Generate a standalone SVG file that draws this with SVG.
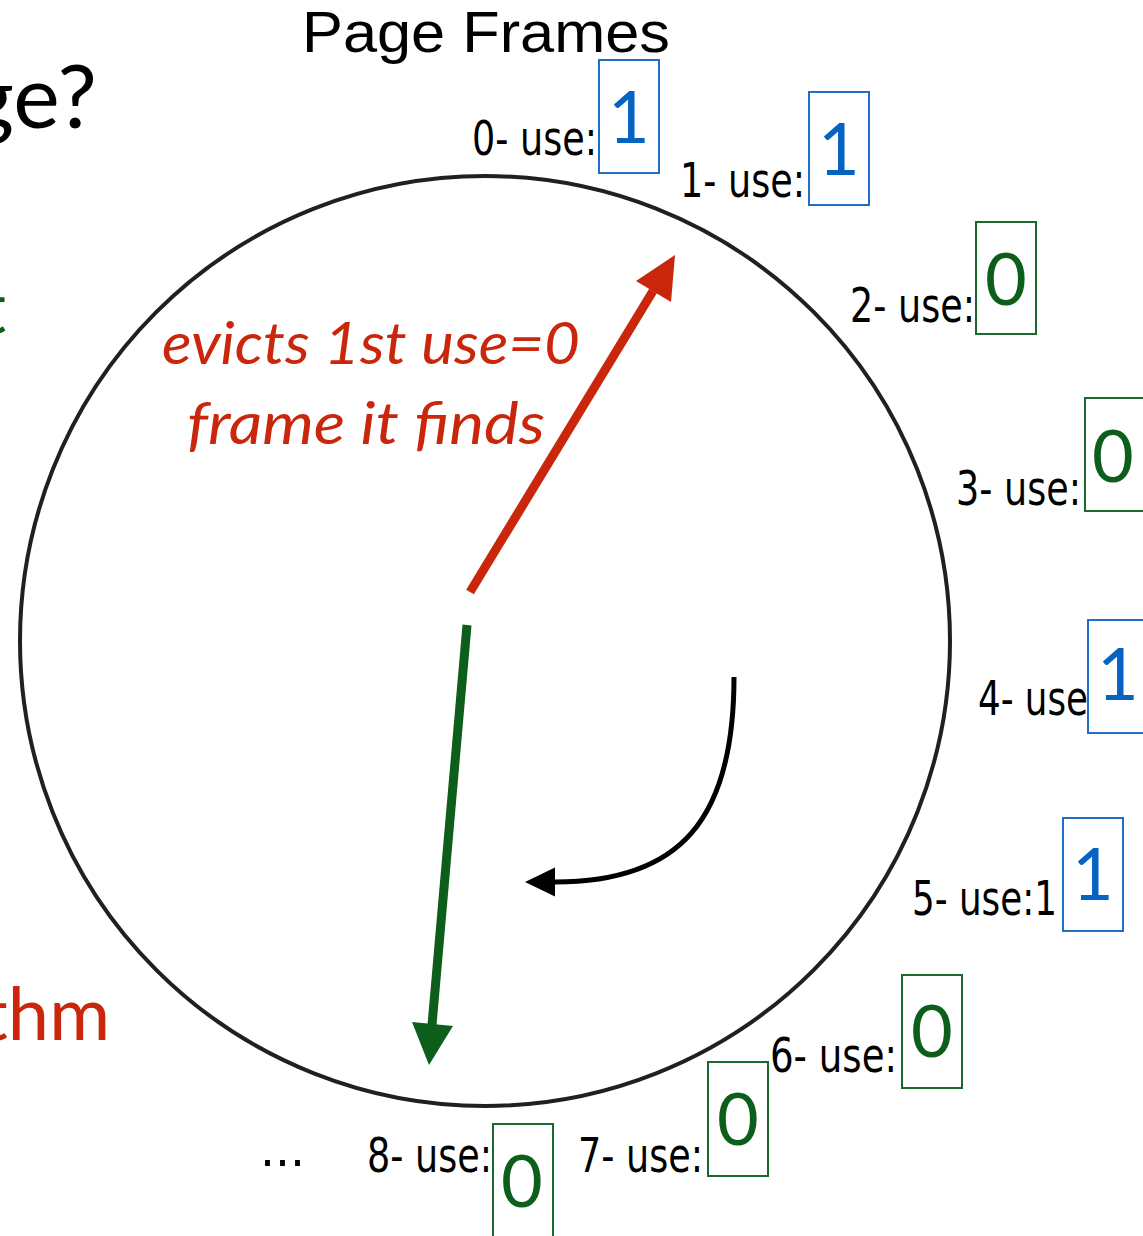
<svg xmlns="http://www.w3.org/2000/svg" width="1143" height="1236" viewBox="0 0 1143 1236">
<style>
.lbl{font-family:"Liberation Sans Narrow","DejaVu Sans Condensed","Liberation Sans",sans-serif;font-size:48px;fill:#000}
.box1{fill:none;stroke:#1f6fc8;stroke-width:2}
.box0{fill:none;stroke:#1a6b2a;stroke-width:2}
.d1{font-family:Lato,"Liberation Sans",sans-serif;font-size:72px;fill:#0563c1;text-anchor:middle}
.d0{font-family:Lato,"Liberation Sans",sans-serif;font-size:72px;fill:#0d5e1a;text-anchor:middle}
.big{font-family:Lato,"Open Sans",sans-serif}
</style>
<defs>
<marker id="ah" markerUnits="userSpaceOnUse" markerWidth="30" markerHeight="30" refX="0" refY="13" orient="auto" viewBox="0 0 27 26"><path d="M0,0 L27,13 L0,26 Z" fill="#000"/></marker>
</defs>
<rect width="1143" height="1236" fill="#fff"/>
<g id="cropped-left">
<text class="big" x="97" y="128" font-size="88" text-anchor="end" fill="#000">ge?</text>
<text class="big" x="6" y="333" font-size="72" text-anchor="end" fill="#0d5e1a">t</text>
<text class="big" x="110" y="1040" font-size="74" text-anchor="end" fill="#c9260c">thm</text>
</g>
<g id="title"><text x="486" y="52" font-family="'Liberation Sans',Arial,sans-serif" font-size="57" text-anchor="middle" textLength="368" lengthAdjust="spacingAndGlyphs">Page Frames</text></g>
<g id="clock"><ellipse cx="485" cy="641" rx="465" ry="465" fill="none" stroke="#231f20" stroke-width="4"/></g>
<g id="connectors">
<line x1="470" y1="592" x2="653" y2="291" stroke="#c9260c" stroke-width="9"/>
<polygon points="675,255 636,281 671,302" fill="#c9260c"/>
<line x1="467" y1="625" x2="432" y2="1025" stroke="#0d5e1a" stroke-width="9"/>
<polygon points="412,1022 453,1026 429,1065" fill="#0d5e1a"/>
<path d="M734,677 C734,820 680,882 555,882" fill="none" stroke="#000" stroke-width="5" marker-end="url(#ah)"/>
</g>
<g id="note">
<text class="big" x="371" y="364" font-size="58" font-style="italic" fill="#c9260c" text-anchor="middle" textLength="418" lengthAdjust="spacingAndGlyphs">evicts 1st use=0</text>
<text class="big" x="366" y="444" font-size="58" font-style="italic" fill="#c9260c" text-anchor="middle" textLength="358" lengthAdjust="spacingAndGlyphs">frame it finds</text>
</g>
<g id="frame0"><text class="lbl" x="472" y="155" textLength="125" lengthAdjust="spacingAndGlyphs">0- use:</text><rect class="box1" x="599" y="60" width="60" height="113"/><text class="d1" x="629" y="143">1</text></g>
<g id="frame1"><text class="lbl" x="680" y="197" textLength="125" lengthAdjust="spacingAndGlyphs">1- use:</text><rect class="box1" x="809" y="92" width="60" height="113"/><text class="d1" x="839" y="175">1</text></g>
<g id="frame2"><text class="lbl" x="850" y="322" textLength="125" lengthAdjust="spacingAndGlyphs">2- use:</text><rect class="box0" x="976" y="222" width="60" height="112"/><text class="d0" x="1006" y="305">0</text></g>
<g id="frame3"><text class="lbl" x="956" y="505" textLength="125" lengthAdjust="spacingAndGlyphs">3- use:</text><rect class="box0" x="1085" y="398" width="60" height="113"/><text class="d0" x="1113" y="482">0</text></g>
<g id="frame4"><text class="lbl" x="978" y="715" textLength="110" lengthAdjust="spacingAndGlyphs">4- use</text><rect class="box1" x="1088" y="620" width="60" height="113"/><text class="d1" x="1118" y="700">1</text></g>
<g id="frame5"><text class="lbl" x="912" y="915" textLength="145" lengthAdjust="spacingAndGlyphs">5- use:1</text><rect class="box1" x="1063" y="818" width="60" height="113"/><text class="d1" x="1093" y="900">1</text></g>
<g id="frame6"><text class="lbl" x="770" y="1072" textLength="127" lengthAdjust="spacingAndGlyphs">6- use:</text><rect class="box0" x="902" y="975" width="60" height="113"/><text class="d0" x="932" y="1057">0</text></g>
<g id="frame7"><text class="lbl" x="578" y="1172" textLength="125" lengthAdjust="spacingAndGlyphs">7- use:</text><rect class="box0" x="708" y="1062" width="60" height="114"/><text class="d0" x="738" y="1145">0</text></g>
<g id="frame8"><text class="lbl" x="367" y="1172" textLength="125" lengthAdjust="spacingAndGlyphs">8- use:</text><rect class="box0" x="493" y="1124" width="60" height="116"/><text class="d0" x="522" y="1207">0</text></g>
<g id="ellipsis"><text class="lbl" x="260" y="1166" textLength="45" lengthAdjust="spacingAndGlyphs">...</text></g>
</svg>
